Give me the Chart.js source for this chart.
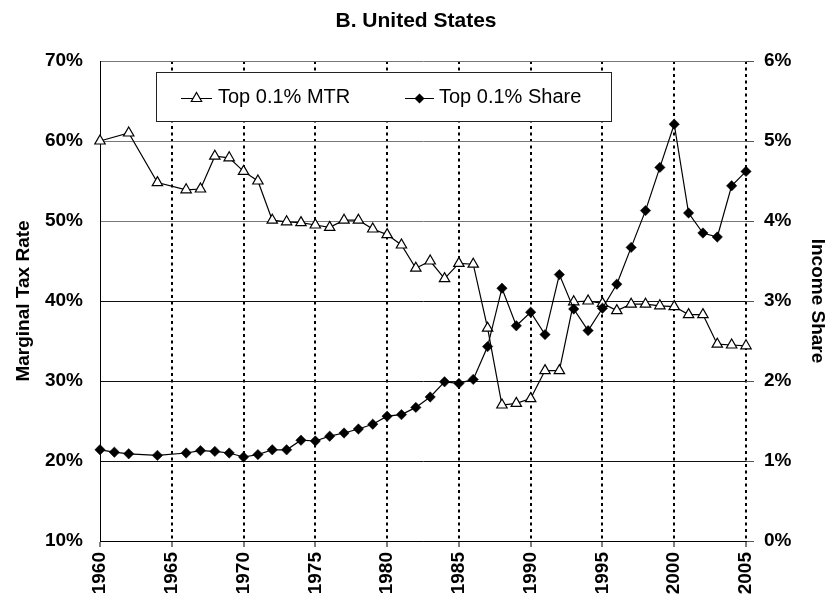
<!DOCTYPE html>
<html>
<head>
<meta charset="utf-8">
<script src="https://cdn.jsdelivr.net/npm/chart.js"></script>
<style>
  body { margin: 0; background: #fff; }
  canvas { display: block; }
</style>
</head>
<body>
<canvas id="chart" width="832" height="604"></canvas>
<script>
const FONT = 'Arial, "Liberation Sans", sans-serif';

// Top 0.1% marginal tax rate (left axis, %)
const mtrYears = [1960, 1962, 1964, 1966, 1967, 1968, 1969, 1970, 1971, 1972, 1973, 1974, 1975,
    1976, 1977, 1978, 1979, 1980, 1981, 1982, 1983, 1984, 1985, 1986, 1987, 1988, 1989, 1990,
    1991, 1992, 1993, 1994, 1995, 1996, 1997, 1998, 1999, 2000, 2001, 2002, 2003, 2004, 2005];
const mtrValues = [60.0, 61.0, 54.8, 53.9, 54.0, 58.1, 57.9, 56.2, 55.0, 50.1, 49.9, 49.8, 49.5,
    49.2, 50.1, 50.1, 49.0, 48.3, 47.0, 44.1, 45.0, 42.8, 44.7, 44.6, 36.6, 27.0, 27.2, 27.8,
    31.3, 31.3, 39.9, 40.0, 39.7, 38.8, 39.6, 39.6, 39.4, 39.3, 38.3, 38.3, 34.6, 34.5, 34.4];

// Top 0.1% income share (right axis, %)
const shareYears = [1960, 1961, 1962, 1964, 1966, 1967, 1968, 1969, 1970, 1971, 1972, 1973, 1974,
    1975, 1976, 1977, 1978, 1979, 1980, 1981, 1982, 1983, 1984, 1985, 1986, 1987, 1988, 1989,
    1990, 1991, 1992, 1993, 1994, 1995, 1996, 1997, 1998, 1999, 2000, 2001, 2002, 2003, 2004, 2005];
const shareValues = [1.14, 1.11, 1.09, 1.07, 1.10, 1.13, 1.12, 1.10, 1.05, 1.08, 1.14, 1.14, 1.26,
    1.25, 1.31, 1.35, 1.40, 1.46, 1.56, 1.58, 1.67, 1.80, 1.99, 1.97, 2.02, 2.43, 3.16, 2.69,
    2.86, 2.58, 3.33, 2.90, 2.63, 2.91, 3.21, 3.67, 4.13, 4.67, 5.21, 4.10, 3.85, 3.80, 4.44, 4.62];

const seriesLabels = ['Top 0.1% MTR', 'Top 0.1% Share'];
const chartTitle = 'B. United States';
const leftAxisTitle = 'Marginal Tax Rate';
const rightAxisTitle = 'Income Share';

function toPoints(xs, ys) {
    return xs.map((x, i) => ({ x: x, y: ys[i] }));
}

// legend box drawn inside the plot, like the original
const boxLegend = {
    id: 'boxLegend',
    afterDatasetsDraw(chart) {
        const ctx = chart.ctx;
        ctx.save();
        ctx.fillStyle = '#fff';
        ctx.strokeStyle = '#222';
        ctx.lineWidth = 1;
        ctx.fillRect(156, 72, 455, 50);
        ctx.strokeRect(156.5, 72.5, 455, 49);

        const y = 98.5;
        ctx.strokeStyle = '#000';
        ctx.lineWidth = 1.2;
        ctx.beginPath();
        ctx.moveTo(181, y); ctx.lineTo(212, y);
        ctx.moveTo(405, y); ctx.lineTo(434, y);
        ctx.stroke();

        // triangle
        const r = 6, cx = 196.5;
        ctx.beginPath();
        ctx.moveTo(cx, y - r);
        ctx.lineTo(cx + r * Math.sqrt(3) / 2, y + r / 2);
        ctx.lineTo(cx - r * Math.sqrt(3) / 2, y + r / 2);
        ctx.closePath();
        ctx.fillStyle = '#fff';
        ctx.fill();
        ctx.stroke();

        // diamond
        const d = 5, dx = 419.5;
        ctx.beginPath();
        ctx.moveTo(dx - d, y); ctx.lineTo(dx, y - d);
        ctx.lineTo(dx + d, y); ctx.lineTo(dx, y + d);
        ctx.closePath();
        ctx.fillStyle = '#000';
        ctx.fill();

        ctx.fillStyle = '#000';
        ctx.font = '20px ' + FONT;
        ctx.textBaseline = 'middle';
        ctx.textAlign = 'left';
        ctx.fillText(seriesLabels[0], 218, y - 1);
        ctx.fillText(seriesLabels[1], 439, y - 1);
        ctx.restore();
    }
};

const tickFont = { family: FONT, size: 19, weight: 'bold' };

new Chart(document.getElementById('chart'), {
    type: 'line',
    data: {
        datasets: [{
            label: seriesLabels[0],
            data: toPoints(mtrYears, mtrValues),
            yAxisID: 'y',
            order: 1,
            borderColor: '#000',
            borderWidth: 1.2,
            pointStyle: 'triangle',
            pointRadius: 6,
            pointBackgroundColor: '#fff',
            pointBorderColor: '#000',
            pointBorderWidth: 1.2,
            tension: 0,
            clip: false
        }, {
            label: seriesLabels[1],
            data: toPoints(shareYears, shareValues),
            yAxisID: 'y1',
            order: 0,
            borderColor: '#000',
            borderWidth: 1.2,
            pointStyle: 'rectRot',
            pointRadius: 5.2,
            pointBackgroundColor: '#000',
            pointBorderColor: '#000',
            pointBorderWidth: 0.5,
            tension: 0,
            clip: false
        }]
    },
    options: {
        responsive: false,
        animation: false,
        events: [],
        layout: { padding: 0 },
        plugins: {
            legend: { display: false },
            tooltip: { enabled: false },
            title: {
                display: true,
                text: chartTitle,
                color: '#000',
                font: { family: FONT, size: 21, weight: 'bold' },
                padding: { top: 9, bottom: 26.8 }
            }
        },
        scales: {
            x: {
                type: 'linear',
                min: 1960,
                max: 2005,
                afterFit: s => { s.height = 63; },
                ticks: {
                    stepSize: 5,
                    autoSkip: false,
                    minRotation: 90,
                    maxRotation: 90,
                    padding: 5,
                    color: '#000',
                    font: tickFont,
                    callback: v => String(v)
                },
                grid: {
                    color: c => (c.tick && c.tick.value === 1960) ? 'rgba(0,0,0,0)' : '#000',
                    lineWidth: 2,
                    tickColor: '#000',
                    tickWidth: 1,
                    tickLength: 6
                },
                border: { display: true, color: '#000', width: 1, dash: [3, 3.5] }
            },
            y: {
                position: 'left',
                min: 10,
                max: 70,
                afterFit: s => { s.width = 100; },
                ticks: {
                    stepSize: 10,
                    padding: 17,
                    color: '#000',
                    font: tickFont,
                    callback: v => v + '%'
                },
                grid: {
                    color: c => (c.tick && c.tick.value >= 50) ? '#777' : '#111',
                    lineWidth: 1,
                    drawTicks: false
                },
                border: { display: true, color: '#000', width: 1 },
                title: {
                    display: true,
                    text: leftAxisTitle,
                    color: '#000',
                    font: { family: FONT, size: 19, weight: 'bold' },
                    padding: { top: 12, bottom: 0 }
                }
            },
            y1: {
                position: 'right',
                min: 0,
                max: 6,
                afterFit: s => { s.width = 86; },
                ticks: {
                    stepSize: 1,
                    padding: 10,
                    color: '#000',
                    font: tickFont,
                    callback: v => v + '%'
                },
                grid: {
                    drawOnChartArea: false,
                    tickColor: '#555',
                    tickLength: 8
                },
                border: { display: false },
                title: {
                    display: true,
                    text: rightAxisTitle,
                    color: '#000',
                    font: { family: FONT, size: 19, weight: 'bold' },
                    padding: { top: 3, bottom: 0 }
                }
            }
        }
    },
    plugins: [boxLegend]
});
</script>
</body>
</html>
